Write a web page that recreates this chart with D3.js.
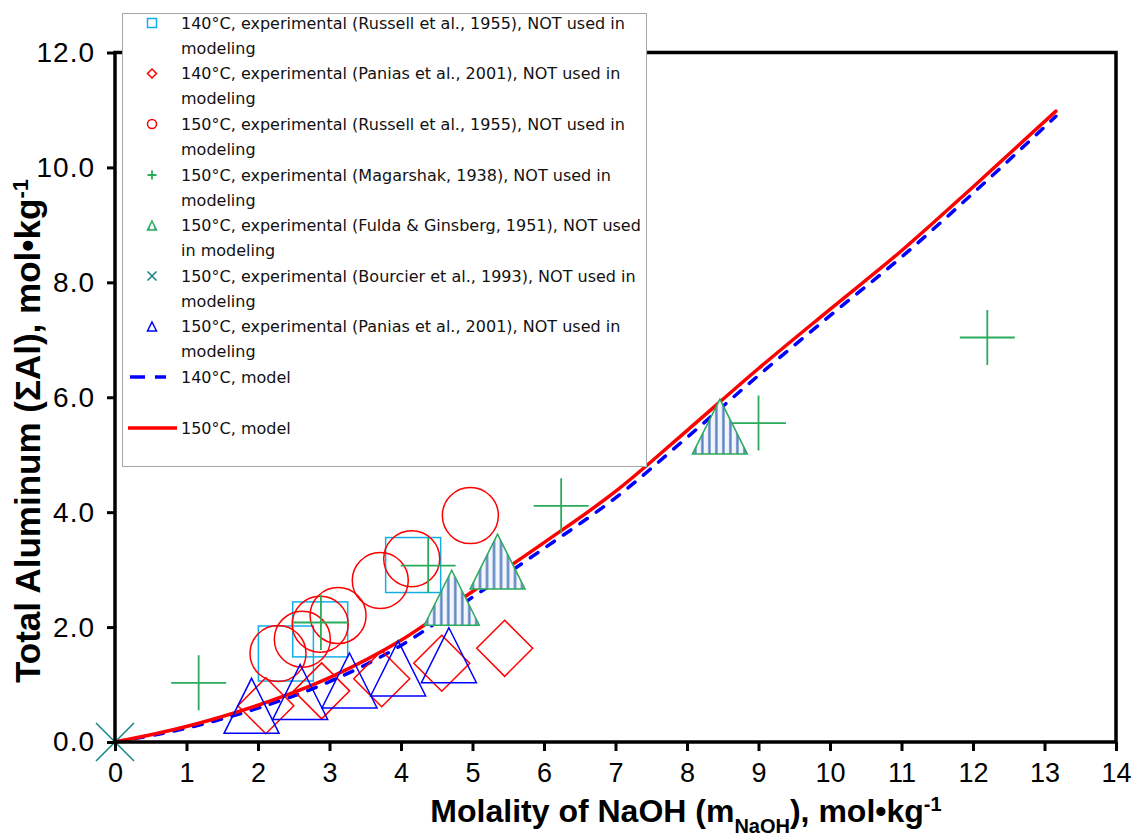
<!DOCTYPE html>
<html>
<head>
<meta charset="utf-8">
<script src="https://cdnjs.cloudflare.com/ajax/libs/d3/7.8.5/d3.min.js"></script>
<style>
  body { margin: 0; background: #fff; }
  svg { display: block; }
</style>
</head>
<body>
<div id="chart"></div>
<script>
// ---- data ----
var xTicks = [0, 1, 2, 3, 4, 5, 6, 7, 8, 9, 10, 11, 12, 13, 14];
var yTicks = [0, 2, 4, 6, 8, 10, 12];

// model curves
var modelX    = [0, 1, 2, 3, 4, 5, 6, 7, 8, 9, 10, 11, 12, 13.16];
var model150Y = [0, 0.27, 0.64, 1.12, 1.77, 2.62, 3.47, 4.36, 5.42, 6.50, 7.53, 8.55, 9.66, 10.98];
var model140Y = [0, 0.24, 0.59, 1.05, 1.68, 2.52, 3.37, 4.25, 5.30, 6.38, 7.42, 8.44, 9.55, 10.89];

// experimental points
var russell140X = [2.39, 2.87, 4.17];
var russell140Y = [1.54, 1.96, 3.08];
var panias140X = [2.11, 2.89, 3.73, 4.57, 5.45];
var panias140Y = [0.63, 0.89, 1.10, 1.37, 1.63];
var russell150X = [2.28, 2.62, 2.87, 3.12, 3.71, 4.15, 4.97];
var russell150Y = [1.54, 1.79, 2.05, 2.20, 2.81, 3.19, 3.94];
var magarshakX = [1.17, 2.88, 4.38, 6.24, 9.00, 12.20];
var magarshakY = [1.03, 2.08, 3.07, 4.11, 5.55, 7.04];
var fuldaX = [4.71, 5.35, 8.46];
var fuldaY = [2.51, 3.14, 5.49];
var bourcierX = [0];
var bourcierY = [0];
var panias150X = [1.91, 2.59, 3.28, 3.96, 4.67];
var panias150Y = [0.63, 0.87, 1.07, 1.28, 1.51];

var legendLabels = [
  ["140\u00B0C, experimental (Russell et al., 1955), NOT used in", "modeling"],
  ["140\u00B0C, experimental (Panias et al., 2001), NOT used in", "modeling"],
  ["150\u00B0C, experimental (Russell et al., 1955), NOT used in", "modeling"],
  ["150\u00B0C, experimental (Magarshak, 1938), NOT used in", "modeling"],
  ["150\u00B0C, experimental (Fulda & Ginsberg, 1951), NOT used", "in modeling"],
  ["150\u00B0C, experimental (Bourcier et al., 1993), NOT used in", "modeling"],
  ["150\u00B0C, experimental (Panias et al., 2001), NOT used in", "modeling"],
  ["140\u00B0C, model"],
  ["150\u00B0C, model"]
];

// ---- layout ----
var W = 1135, H = 836;
var plotL = 115, plotR = 1116, plotT = 52.5, plotB = 742;

var svg = d3.select("#chart").append("svg")
    .attr("width", W)
    .attr("height", H);

var x = d3.scaleLinear().domain([0, 14]).range([plotL, plotR]);
var y = d3.scaleLinear().domain([0, 12]).range([plotB, plotT]);

var defs = svg.append("defs");
var hatch = defs.append("pattern")
    .attr("id", "hatch")
    .attr("patternUnits", "userSpaceOnUse")
    .attr("width", 7)
    .attr("height", 7);
hatch.append("rect").attr("width", 7).attr("height", 7).attr("fill", "#f2f6fc");
hatch.append("line")
    .attr("x1", 3.5).attr("x2", 3.5).attr("y1", 0).attr("y2", 7)
    .attr("stroke", "#5a82c2").attr("stroke-width", 2.4);

var zip = function(xs, ys) { return xs.map(function(v, i) { return [v, ys[i]]; }); };

// ---- model lines ----
var line = d3.line()
    .x(function(d) { return x(d[0]); })
    .y(function(d) { return y(d[1]); })
    .curve(d3.curveMonotoneX);

svg.append("path")
    .datum(zip(modelX, model140Y))
    .attr("d", line)
    .attr("fill", "none")
    .attr("stroke", "#0000ff")
    .attr("stroke-width", 3.5)
    .attr("stroke-linecap", "round")
    .attr("stroke-dasharray", "9,11");

svg.append("path")
    .datum(zip(modelX, model150Y))
    .attr("d", line)
    .attr("fill", "none")
    .attr("stroke", "#ff0000")
    .attr("stroke-width", 3.5)
    .attr("stroke-linecap", "round");

// ---- marker shapes ----
function drawMarker(g, kind, s) {
  var h = s / 2;
  if (kind === "square") {
    g.append("rect").attr("x", -h).attr("y", -h).attr("width", s).attr("height", s)
      .attr("fill", "none").attr("stroke", "#14aee6").attr("stroke-width", 1.5);
  } else if (kind === "diamond") {
    g.append("path").attr("d", "M0," + (-h) + "L" + h + ",0L0," + h + "L" + (-h) + ",0Z")
      .attr("fill", "none").attr("stroke", "#ff0000").attr("stroke-width", 1.5);
  } else if (kind === "circle") {
    g.append("circle").attr("r", h)
      .attr("fill", "none").attr("stroke", "#ff0000").attr("stroke-width", 1.5);
  } else if (kind === "plus") {
    g.append("path").attr("d", "M" + (-h) + ",0H" + h + "M0," + (-h) + "V" + h)
      .attr("fill", "none").attr("stroke", "#2aab5a").attr("stroke-width", 1.8);
  } else if (kind === "hatchTri") {
    g.append("path").attr("d", "M0," + (-h) + "L" + h + "," + h + "L" + (-h) + "," + h + "Z")
      .attr("fill", "url(#hatch)").attr("stroke", "#2aab5a").attr("stroke-width", 1.5);
  } else if (kind === "cross") {
    g.append("path").attr("d", "M" + (-h) + "," + (-h) + "L" + h + "," + h + "M" + h + "," + (-h) + "L" + (-h) + "," + h)
      .attr("fill", "none").attr("stroke", "#138585").attr("stroke-width", 1.5);
  } else if (kind === "tri") {
    g.append("path").attr("d", "M0," + (-h) + "L" + h + "," + h + "L" + (-h) + "," + h + "Z")
      .attr("fill", "none").attr("stroke", "#0000ff").attr("stroke-width", 1.5);
  }
}

var series = [
  { kind: "square", xs: russell140X, ys: russell140Y, size: 55 },
  { kind: "diamond", xs: panias140X, ys: panias140Y, size: 56 },
  { kind: "circle", xs: russell150X, ys: russell150Y, size: 56 },
  { kind: "plus", xs: magarshakX, ys: magarshakY, size: 55 },
  { kind: "hatchTri", xs: fuldaX, ys: fuldaY, size: 55 },
  { kind: "cross", xs: bourcierX, ys: bourcierY, size: 38 },
  { kind: "tri", xs: panias150X, ys: panias150Y, size: 55 }
];

series.forEach(function(s) {
  svg.append("g").selectAll("g")
    .data(zip(s.xs, s.ys))
    .enter().append("g")
    .attr("transform", function(d) { return "translate(" + x(d[0]) + "," + y(d[1]) + ")"; })
    .each(function() { drawMarker(d3.select(this), s.kind, s.size); });
});

// ---- axes and frame ----
var xAxis = svg.append("g")
    .attr("transform", "translate(0," + plotB + ")")
    .call(d3.axisBottom(x).tickValues(xTicks).tickSize(9).tickPadding(12).tickFormat(d3.format("d")));
var yAxis = svg.append("g")
    .attr("transform", "translate(" + plotL + ",0)")
    .call(d3.axisLeft(y).tickValues(yTicks).tickSize(8).tickPadding(12).tickFormat(d3.format(".1f")));

[xAxis, yAxis].forEach(function(ax) {
  ax.select(".domain").remove();
  ax.selectAll(".tick line").attr("stroke", "#000").attr("stroke-width", 3);
  ax.selectAll(".tick text")
    .attr("fill", "#000")
    .style("font-family", "'Liberation Sans', Arial, sans-serif");
});
xAxis.selectAll(".tick text").style("font-size", "27px");
yAxis.selectAll(".tick text").style("font-size", "28px").style("letter-spacing", "1px");

svg.append("rect")
    .attr("x", plotL).attr("y", plotT)
    .attr("width", plotR - plotL).attr("height", plotB - plotT)
    .attr("fill", "none").attr("stroke", "#000").attr("stroke-width", 3.5);

// ---- axis titles ----
var titleFont = "'Liberation Sans', Arial, sans-serif";
var xt = svg.append("text")
    .attr("x", 686).attr("y", 822)
    .attr("text-anchor", "middle")
    .style("font-family", titleFont).style("font-weight", "bold").style("font-size", "32px");
xt.append("tspan").text("Molality of NaOH (m");
xt.append("tspan").attr("baseline-shift", "sub").style("font-size", "20px").text("NaOH");
xt.append("tspan").text("), mol\u2022kg");
xt.append("tspan").attr("baseline-shift", "super").style("font-size", "20px").text("-1");

var yt = svg.append("text")
    .attr("transform", "translate(40,431) rotate(-90)")
    .attr("text-anchor", "middle")
    .style("font-family", titleFont).style("font-weight", "bold").style("font-size", "35px");
yt.append("tspan").text("Total Aluminum (\u03A3Al), mol\u2022kg");
yt.append("tspan").attr("baseline-shift", "super").style("font-size", "22px").text("-1");

// ---- legend ----
var legend = svg.append("g");
legend.append("rect")
    .attr("x", 122.5).attr("y", 13.5)
    .attr("width", 524).attr("height", 453)
    .attr("fill", "#fff").attr("stroke", "#a6a6a6").attr("stroke-width", 1);

var legendKinds = ["square", "diamond", "circle", "plus", "hatchTri", "cross", "tri", "dash", "solid"];
var legendY = [23, 73.5, 124, 175, 225.5, 276, 326.5, 377, 428];

legendKinds.forEach(function(k, i) {
  var g = legend.append("g").attr("transform", "translate(152," + legendY[i] + ")");
  if (k === "dash") {
    g.append("line").attr("x1", -22).attr("x2", 14).attr("y1", 0).attr("y2", 0)
      .attr("stroke", "#0000ff").attr("stroke-width", 3.5).attr("stroke-dasharray", "15,10");
  } else if (k === "solid") {
    g.append("line").attr("x1", -24).attr("x2", 25).attr("y1", 0).attr("y2", 0)
      .attr("stroke", "#ff0000").attr("stroke-width", 3.5);
  } else {
    drawMarker(g, k, 9);
  }
  legendLabels[i].forEach(function(t, j) {
    legend.append("text")
      .attr("x", 181).attr("y", legendY[i] + 5.5 + j * 25)
      .style("font-family", "'DejaVu Sans', Verdana, sans-serif")
      .style("font-size", "16px")
      .attr("fill", "#111")
      .text(t);
  });
});
</script>
</body>
</html>
